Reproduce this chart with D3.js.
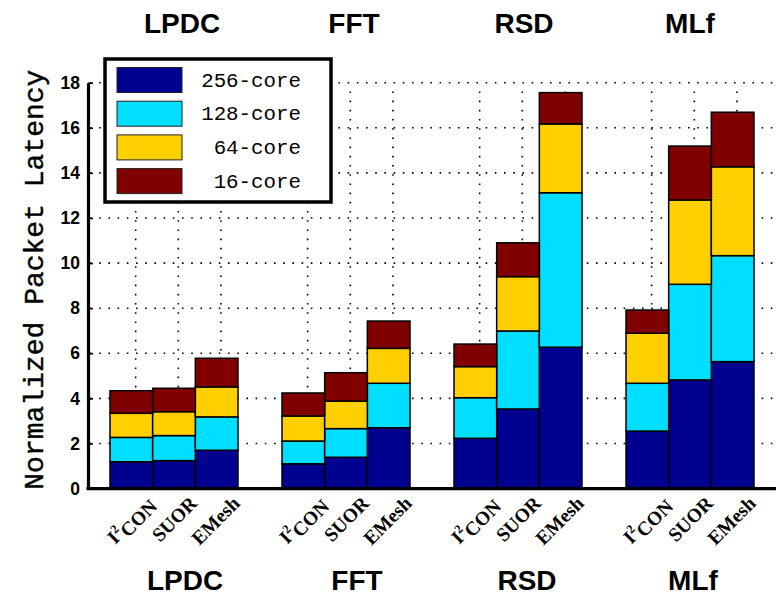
<!DOCTYPE html>
<html>
<head>
<meta charset="utf-8">
<script src="https://cdn.jsdelivr.net/npm/d3@7"></script>
<style>
  body { margin: 0; background: #fff; }
  svg { display: block; }
</style>
</head>
<body>
<svg id="chart" width="779" height="597"></svg>
<script>
// benchmarks, schemes and core-count series
const benchmarks = ["LPDC", "FFT", "RSD", "MLf"];
const schemes = ["I2CON", "SUOR", "EMesh"];
const seriesNames = ["256-core", "128-core", "64-core", "16-core"];
const seriesColors = ["#000090", "#00DFFF", "#FFCF00", "#800000"];

// segment heights, ordered benchmark x scheme (I2CON, SUOR, EMesh)
const core256 = [1.19, 1.24, 1.70, 1.10, 1.39, 2.70, 2.23, 3.53, 6.27, 2.55, 4.82, 5.63];
const core128 = [1.08, 1.11, 1.48, 1.01, 1.27, 1.97, 1.80, 3.46, 6.85, 2.12, 4.24, 4.70];
const core64  = [1.07, 1.06, 1.33, 1.11, 1.22, 1.55, 1.38, 2.41, 3.05, 2.22, 3.74, 3.94];
const core16  = [1.00, 1.04, 1.27, 1.02, 1.26, 1.21, 1.00, 1.50, 1.39, 1.03, 2.39, 2.42];

const yTicks = [0, 2, 4, 6, 8, 10, 12, 14, 16, 18];

// layout
const plot = {left: 88, right: 776, top: 82.7, bottom: 488.6};
const barWidth = 0.248;       // in group units
const gridShift = 0.025;      // grid/tick lines sit slightly right of bar centres

const svg = d3.select("#chart");

const x = d3.scaleLinear().domain([0.5, 4.5]).range([plot.left, plot.right]);
const y = d3.scaleLinear().domain([0, 18]).range([plot.bottom, plot.top]);

// flatten rows for stacking
const rows = [];
benchmarks.forEach((b, bi) => {
  schemes.forEach((s, si) => {
    const k = bi * schemes.length + si;
    rows.push({
      bench: b, scheme: s,
      pos: bi + 1 + (si - 1) * barWidth,
      "256-core": core256[k], "128-core": core128[k],
      "64-core": core64[k], "16-core": core16[k]
    });
  });
});

const stacked = d3.stack().keys(seriesNames)(rows);
const color = d3.scaleOrdinal().domain(seriesNames).range(seriesColors);

// dotted grid
const grid = svg.append("g").attr("stroke", "#000").attr("stroke-width", 1.6)
  .attr("stroke-dasharray", "1.6,7.6");
grid.selectAll("line.h").data(yTicks.filter(d => d > 0)).join("line")
  .attr("x1", plot.left + 2).attr("x2", plot.right)
  .attr("y1", d => y(d)).attr("y2", d => y(d));
grid.selectAll("line.v").data(rows).join("line")
  .attr("x1", d => x(d.pos + gridShift)).attr("x2", d => x(d.pos + gridShift))
  .attr("y1", y(0)).attr("y2", y(18) + 5);

// stacked bars
svg.append("g").selectAll("g").data(stacked).join("g")
  .attr("fill", d => color(d.key))
  .selectAll("rect").data(d => d).join("rect")
  .attr("x", d => x(d.data.pos - barWidth / 2))
  .attr("width", d => x(barWidth) - x(0))
  .attr("y", d => y(d[1]))
  .attr("height", d => y(d[0]) - y(d[1]))
  .attr("stroke", "#000").attr("stroke-width", 1.5);

// y axis
const yAxis = svg.append("g").attr("transform", `translate(${plot.left},0)`)
  .call(d3.axisLeft(y).tickValues(yTicks).tickSize(-5).tickPadding(8).tickSizeOuter(0));
yAxis.select(".domain").attr("stroke-width", 3.2);
yAxis.selectAll(".tick line").attr("stroke-width", 1.5);
yAxis.selectAll(".tick text")
  .attr("font-family", "Liberation Sans, Arial, sans-serif")
  .attr("font-weight", "bold").attr("font-size", 17.5).attr("fill", "#000");

// x axis line
svg.append("line")
  .attr("x1", plot.left - 1.5).attr("x2", plot.right)
  .attr("y1", y(0)).attr("y2", y(0))
  .attr("stroke", "#000").attr("stroke-width", 3.2);

// rotated scheme labels
const xl = svg.append("g").selectAll("text").data(rows).join("text")
  .attr("transform", d => `translate(${x(d.pos + gridShift) + 10},${y(0) + 6}) rotate(-45)`)
  .attr("text-anchor", "end").attr("dy", "0.72em")
  .attr("font-family", "Liberation Serif, Times New Roman, serif")
  .attr("font-weight", "bold").attr("font-size", 19.5).attr("fill", "#000");
xl.each(function(d) {
  const t = d3.select(this);
  if (d.scheme === "I2CON") {
    t.append("tspan").text("I");
    t.append("tspan").attr("font-size", 12.5).attr("dy", "-0.6em").text("2");
    t.append("tspan").attr("dy", "0.6em").text("CON");
  } else {
    t.text(d.scheme);
  }
});

// benchmark titles top and bottom
const titleShift = [8, 8, 6, 0];
const titleFont = "Liberation Sans, Arial, sans-serif";
svg.append("g").selectAll("text").data(benchmarks).join("text")
  .attr("x", (d, i) => x(i + 1) + titleShift[i]).attr("y", 32.5)
  .attr("text-anchor", "middle").attr("font-family", titleFont)
  .attr("font-weight", "bold").attr("font-size", 28).text(d => d);
svg.append("g").selectAll("text").data(benchmarks).join("text")
  .attr("x", (d, i) => x(i + 1) + titleShift[i] + 3).attr("y", 590)
  .attr("text-anchor", "middle").attr("font-family", titleFont)
  .attr("font-weight", "bold").attr("font-size", 28).text(d => d);

// y label
svg.append("text")
  .attr("transform", `translate(43,${(plot.top + plot.bottom) / 2 - 6}) rotate(-90)`)
  .attr("text-anchor", "middle")
  .attr("font-family", "Liberation Mono, Courier New, monospace")
  .attr("font-size", 28).attr("fill", "#000")
  .attr("stroke", "#000").attr("stroke-width", 0.4)
  .text("Normalized Packet Latency");

// legend
const legend = svg.append("g").attr("transform", "translate(105,59)");
legend.append("rect").attr("width", 226).attr("height", 143)
  .attr("fill", "#fff").attr("stroke", "#000").attr("stroke-width", 3.5);
const item = legend.selectAll("g.item").data(seriesNames).join("g")
  .attr("transform", (d, i) => `translate(0,${21 + i * 33.7})`);
item.append("rect").attr("x", 12).attr("y", -12.5).attr("width", 65).attr("height", 25)
  .attr("fill", d => color(d)).attr("stroke", "#222").attr("stroke-width", 1);
item.append("text").attr("x", 196).attr("y", 6.5).attr("text-anchor", "end")
  .attr("font-family", "Liberation Mono, Courier New, monospace")
  .attr("font-size", 20.8).attr("fill", "#000").text(d => d);
</script>
</body>
</html>
